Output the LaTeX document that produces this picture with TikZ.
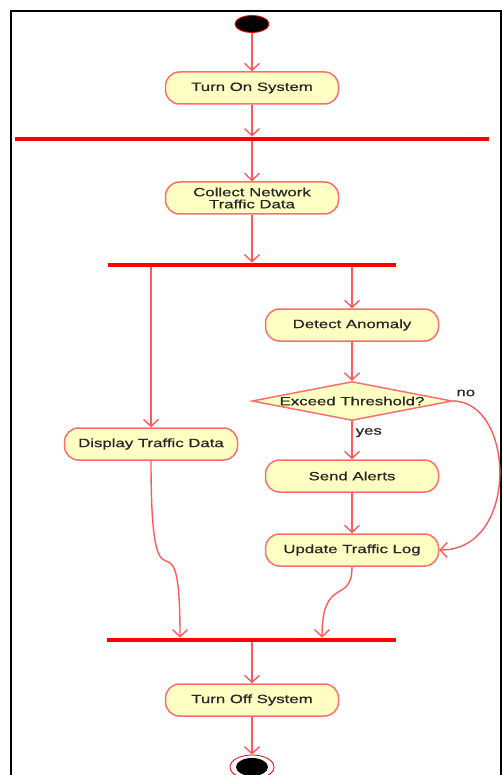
\documentclass[tikz,border=0pt]{standalone}
\usepackage{fontspec}
\setmainfont{Liberation Sans}[FakeStretch=1.4, FakeBold=0.6]
\usetikzlibrary{arrows.meta,shapes.geometric}

\definecolor{actfill}{HTML}{FFFFC4}
\definecolor{actline}{HTML}{FF6E6E}
\definecolor{flowc}{HTML}{FF5A5A}
\definecolor{txt}{HTML}{262626}

\tikzset{
  act/.style={draw=actline, fill=actfill, rounded corners=14pt, line width=1.5pt,
    minimum width=173pt, minimum height=32pt, inner sep=0pt, align=center,
    font=\fontsize{12}{12}\selectfont, text=txt},
  dec/.style={diamond, draw=actline, fill=actfill, line width=1.5pt,
    minimum width=200pt, minimum height=39pt, inner sep=0pt,
    font=\fontsize{12}{12}\selectfont, text=txt},
  syncbar/.style={rectangle, fill=red, draw=none, minimum height=4.5pt, inner sep=0pt},
  flow/.style={draw=flowc, line width=1.4pt, -{Straight Barb[length=7pt,width=15pt]}},
  guard/.style={font=\fontsize{12}{12}\selectfont, text=txt, inner sep=0pt},
}

\begin{document}
\begin{tikzpicture}[x=1pt, y=-1pt]
\useasboundingbox (0,0) rectangle (502,775);

% outer frame
\draw[line width=1.8pt, black] (11,790) -- (11,11) -- (501,11) -- (501,790);

% initial node
\node[ellipse, fill=black, draw=red, line width=0.8pt, minimum width=34pt,
      minimum height=17pt, inner sep=0pt] (start) at (252,24) {};

\node[act] (turnon) at (252,88) {Turn On System};
\node[syncbar, minimum width=474pt] (f1) at (252,139) {};
\node[act] (collect) at (252,198) {Collect Network\\Traffic Data};
\node[syncbar, minimum width=288pt] (f2) at (252,265) {};

\node[act] (display) at (151,444) {Display Traffic Data};
\node[act] (detect) at (352,325) {Detect Anomaly};
\node[dec] (thr) at (352,401) {\makebox[0pt]{Exceed Threshold?}};
\node[act] (send) at (352,476) {Send Alerts};
\node[act] (update) at (352,550) {Update Traffic Log};

\node[syncbar, minimum width=289pt] (f3) at (251.5,640) {};
\node[act] (turnoff) at (252,700) {Turn Off System};

% final node
\node[ellipse, fill=white, draw=red, line width=0.8pt, minimum width=44pt,
      minimum height=24pt, inner sep=0pt] (final) at (252,767) {};
\node[ellipse, fill=black, minimum width=32pt, minimum height=18pt,
      inner sep=0pt] (finaldot) at (final) {};

% join entry points
\coordinate (j1) at ([xshift=-71.5pt]f3.north);
\coordinate (j2) at ([xshift=70.5pt]f3.north);

% control flow
\draw[flow] (start) -- (turnon);
\draw[flow] (turnon) -- (turnon |- f1.north);
\draw[flow] (f1.south -| collect) -- (collect);
\draw[flow] (collect) -- (collect |- f2.north);
\draw[flow] (f2.south -| display) -- (display);
\draw[flow] (f2.south -| detect) -- (detect);
\draw[flow] (detect) -- (thr);
\draw[flow] (thr) -- node[guard, pos=0.3, anchor=west, xshift=3pt] {yes} (send);
\draw[flow] (thr.east) .. controls (515,401) and (520,550) .. (update.east)
  node[guard, at start, anchor=south west, xshift=3pt, yshift=4pt] {no};
\draw[flow] (send) -- (update);
\draw[flow] (display.south) .. controls (151,640) and (180,490) .. (j1);
\draw[flow] (update.south) .. controls (352,605) and (322,575) .. (j2);
\draw[flow] (f3.south -| turnoff) -- (turnoff);
\draw[flow] (turnoff) -- (final);
\end{tikzpicture}
\end{document}
